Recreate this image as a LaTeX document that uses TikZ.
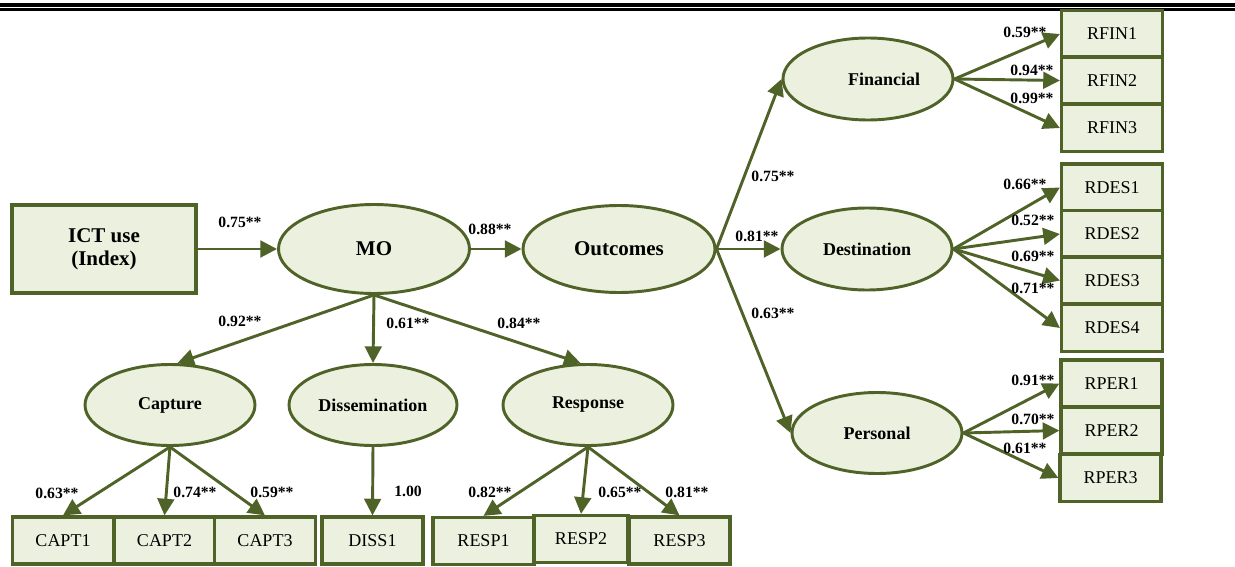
\documentclass[tikz,border=0pt]{standalone}
\usepackage{fontspec}
\setmainfont{Liberation Serif}
\usetikzlibrary{shapes.geometric,arrows.meta}

\definecolor{olivedark}{HTML}{4F6228}
\definecolor{olivepale}{HTML}{EBF1DE}

\newcommand{\bigtxt}{\fontsize{15.75}{17}\selectfont\bfseries}
\newcommand{\midtxt}{\fontsize{13.5}{15}\selectfont}
\newcommand{\coeftxt}{\fontsize{11.75}{12}\selectfont\bfseries}

\begin{document}
\begin{tikzpicture}[
            x=0.75pt,y=-0.75pt,
            lat/.style={ellipse,draw=olivedark,fill=olivepale,line width=2.2pt,inner sep=0pt,font=\midtxt\bfseries},
            ind/.style={draw=olivedark,fill=olivepale,line width=2.4pt,minimum width=75.75pt,minimum height=35.25pt,inner sep=0pt,font=\midtxt},
            path/.style={draw=olivedark,line width=2.2pt,-{Triangle[length=12.5pt,width=12.5pt]}},
            est/.style={font=\coeftxt,inner sep=1pt},
        ]
    \useasboundingbox (0,0) rectangle (1235,567);
    \draw[line width=2.6pt] (0,5) -- (1235,5);
    \draw[line width=1.8pt] (0,9.6) -- (1235,9.6);

    \node[draw=olivedark,fill=olivepale,line width=2.4pt,minimum width=138pt,minimum height=66pt,align=center,font=\bigtxt] (ict) at (104,249) {ICT use\\(Index)};
    \node[lat,minimum width=143.25pt,minimum height=66.75pt,font=\bigtxt] (mo) at (374,249) {MO};
    \node[lat,minimum width=144pt,minimum height=65.25pt,font=\bigtxt] (out) at (619,249) {Outcomes};
    \draw[path] (ict) -- (mo);
    \draw[path] (mo) -- (out);
    \node[est] (l1) at (240,222) {0.75**};
    \node[est] (l2) at (490,229) {0.88**};

    \node[lat,minimum width=127.5pt,minimum height=61.5pt] (fin) at (868,79) {\hspace*{24pt}Financial};
    \node[lat,minimum width=127.5pt,minimum height=61.5pt] (des) at (867,249) {Destination};
    \node[lat,minimum width=127.5pt,minimum height=60.75pt] (per) at (877,433) {Personal};
    \draw[path] (out.east) -- (fin.west);
    \draw[path] (out.east) -- (des.west);
    \draw[path] (out.east) -- (per.west);
    \node[est] (l3) at (773,176) {0.75**};
    \node[est] (l4) at (757,236) {0.81**};
    \node[est] (l5) at (773,313) {0.63**};

    \node[ind] (rfin1) at (1112,34) {RFIN1};
    \node[ind] (rfin2) at (1112,80.5) {RFIN2};
    \node[ind] (rfin3) at (1112,128) {RFIN3};
    \draw[path] (fin.east) -- (rfin1.west);
    \draw[path] (fin.east) -- (rfin2.west);
    \draw[path] (fin.east) -- (rfin3.west);
    \node[est] (l6) at (1025,32) {0.59**};
    \node[est] (l7) at (1032,70) {0.94**};
    \node[est] (l8) at (1032,98) {0.99**};

    \node[ind] (rdes1) at (1112,187.5) {RDES1};
    \node[ind] (rdes2) at (1112,234) {RDES2};
    \node[ind] (rdes3) at (1112,280.5) {RDES3};
    \node[ind] (rdes4) at (1112,328) {RDES4};
    \draw[path] (des.east) -- (rdes1.west);
    \draw[path] (des.east) -- (rdes2.west);
    \draw[path] (des.east) -- (rdes3.west);
    \draw[path] (des.east) -- (rdes4.west);
    \node[est] (l9) at (1025,184) {0.66**};
    \node[est] (l10) at (1033,220) {0.52**};
    \node[est] (l11) at (1033,256) {0.69**};
    \node[est] (l12) at (1033,288) {0.71**};

    \node[ind] (rper1) at (1111.5,383.5) {RPER1};
    \node[ind] (rper2) at (1111.5,430.5) {RPER2};
    \node[ind] (rper3) at (1110.5,478) {RPER3};
    \draw[path] (per.east) -- (rper1.west);
    \draw[path] (per.east) -- (rper2.west);
    \draw[path] (per.east) -- (rper3.west);
    \node[est] (l13) at (1033,380) {0.91**};
    \node[est] (l14) at (1033,419) {0.70**};
    \node[est] (l15) at (1025,448) {0.61**};

    \node[lat,minimum width=127.5pt,minimum height=60.75pt] (cap) at (170,405) {Capture};
    \node[lat,minimum width=126pt,minimum height=60.75pt] (dis) at (373,405) {Dissemination};
    \node[lat,minimum width=127.5pt,minimum height=60.75pt] (resp) at (588,405) {Response};
    \draw[path] (mo.south) -- (cap.80);
    \draw[path] (mo.south) -- (dis.north);
    \draw[path] (mo.south) -- (resp.100);
    \node[est] (l16) at (240,321) {0.92**};
    \node[est] (l17) at (408,323) {0.61**};
    \node[est] (l18) at (519,323) {0.84**};

    \node[ind] (capt1) at (63,540.5) {CAPT1};
    \node[ind] (capt2) at (164.5,540.5) {CAPT2};
    \node[ind] (capt3) at (265,540.5) {CAPT3};
    \node[ind] (diss1) at (372.5,540.5) {DISS1};
    \node[ind] (resp1) at (483.5,541) {RESP1};
    \node[ind,minimum width=70.5pt] (resp2) at (581,539) {RESP2};
    \node[ind] (resp3) at (679.5,540.5) {RESP3};
    \draw[path] (cap.south) -- (capt1.north);
    \draw[path] (cap.south) -- (capt2.north);
    \draw[path] (cap.south) -- (capt3.north);
    \draw[path] (dis.south) -- (diss1.north);
    \draw[path] (resp.south) -- (resp1.north);
    \draw[path] (resp.south) -- (resp2.north);
    \draw[path] (resp.south) -- (resp3.north);
    \node[est] (l19) at (57,493) {0.63**};
    \node[est] (l20) at (195,492) {0.74**};
    \node[est] (l21) at (272,492) {0.59**};
    \node[est] (l22) at (408,491) {1.00};
    \node[est] (l23) at (490,492) {0.82**};
    \node[est] (l24) at (620,492) {0.65**};
    \node[est] (l25) at (687,492) {0.81**};
\end{tikzpicture}
\end{document}
